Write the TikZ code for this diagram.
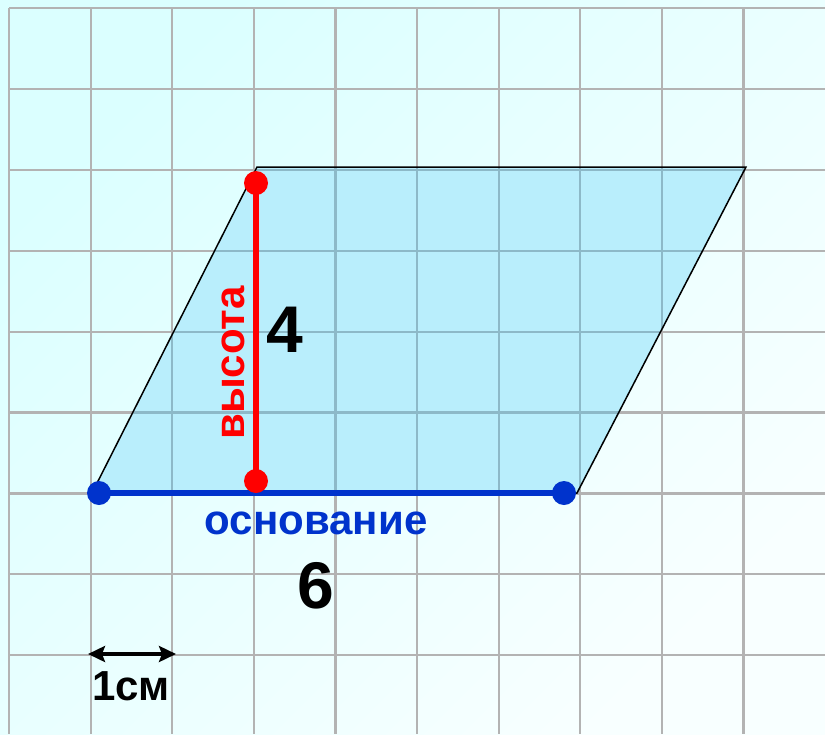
\documentclass[tikz,border=0pt]{standalone}
\usepackage{fontspec}
\setmainfont{Liberation Sans}
\usepackage{xcolor}
\usepackage{tikz}
\usetikzlibrary{arrows.meta, calc, positioning}
\definecolor{bgtop}{HTML}{DBFFFF}
\definecolor{bgbot}{HTML}{F8FFFF}
\definecolor{gridgray}{HTML}{B3B3B3}
\definecolor{gridin}{HTML}{8DB9C8}
\definecolor{parafill}{HTML}{B9EEFC}
\definecolor{hred}{HTML}{FF0000}
\definecolor{bblue}{HTML}{0033CC}
\tikzset{
    gridline/.style={draw=gridgray, line width=2.2pt},
    edge/.style={draw=black, line width=1.5pt, line join=miter},
    heightline/.style={draw=hred, line width=6pt},
    baseline/.style={draw=bblue, line width=6pt},
    reddot/.style={fill=hred},
    bluedot/.style={fill=bblue},
    unitarrow/.style={line width=3.5pt, {Stealth[length=17pt, width=16pt, inset=3pt]}-{Stealth[length=17pt, width=16pt, inset=3pt]}},
    bigtext/.style={font=\bfseries\fontsize{42}{42}\selectfont, inner sep=0pt},
    numtext/.style={font=\bfseries\fontsize{66}{66}\selectfont, inner sep=0pt},
}

\begin{document}
\begin{tikzpicture}[x=1pt, y=-1pt]
        \useasboundingbox (0,0) rectangle (825,734);
        % background
        \shade[left color=bgtop, right color=bgbot, shading angle=45] (0,0) rectangle (825,734);
        % grid
        \foreach \i in {0,...,9}
            \draw[gridline] (9+81.6*\i,8) -- (9+81.6*\i,734);
        \foreach \j in {0,...,8}
            \draw[gridline] (9,8+80.9*\j) -- (825,8+80.9*\j);
        % parallelogram
        \coordinate (A) at (92,493);
        \coordinate (B) at (577,493);
        \coordinate (C) at (746,167);
        \coordinate (D) at (257,167);
        \fill[parafill] (A) -- (B) -- (C) -- (D) -- cycle;
        \begin{scope}
            \clip (A) -- (B) -- (C) -- (D) -- cycle;
            \foreach \i in {0,...,9}
                \draw[gridline, draw=gridin] (9+81.6*\i,8) -- (9+81.6*\i,734);
            \foreach \j in {0,...,8}
                \draw[gridline, draw=gridin] (9,8+80.9*\j) -- (825,8+80.9*\j);
        \end{scope}
        \draw[edge] (A) -- (B) -- (C) -- (D) -- cycle;
        % height and base
        \coordinate (h1) at (256,183);
        \coordinate (h2) at (256,481);
        \coordinate (b1) at (99,493);
        \coordinate (b2) at (564,493);
        \draw[heightline] (h1) -- (h2);
        \draw[baseline] (b1) -- (b2);
        \fill[reddot] (h1) circle (12);
        \fill[reddot] (h2) circle (12);
        \fill[bluedot] (b1) circle (12);
        \fill[bluedot] (b2) circle (12);
        % labels
        \node[bigtext, text=hred, rotate=90] (hlabel) at (233,363) {высота};
        \node[numtext] (hnum) at (285,330) {4};
        \node[bigtext, text=bblue] (blabel) at (316,523) {основание};
        \node[numtext] (bnum) at (316,586) {6};
        % unit
        \coordinate (s1) at (88,654);
        \coordinate (s2) at (176,654);
        \draw[unitarrow] (s1) -- (s2);
        \node[bigtext] (unit) at (131,686) {1см};
    \end{tikzpicture}
\end{document}
